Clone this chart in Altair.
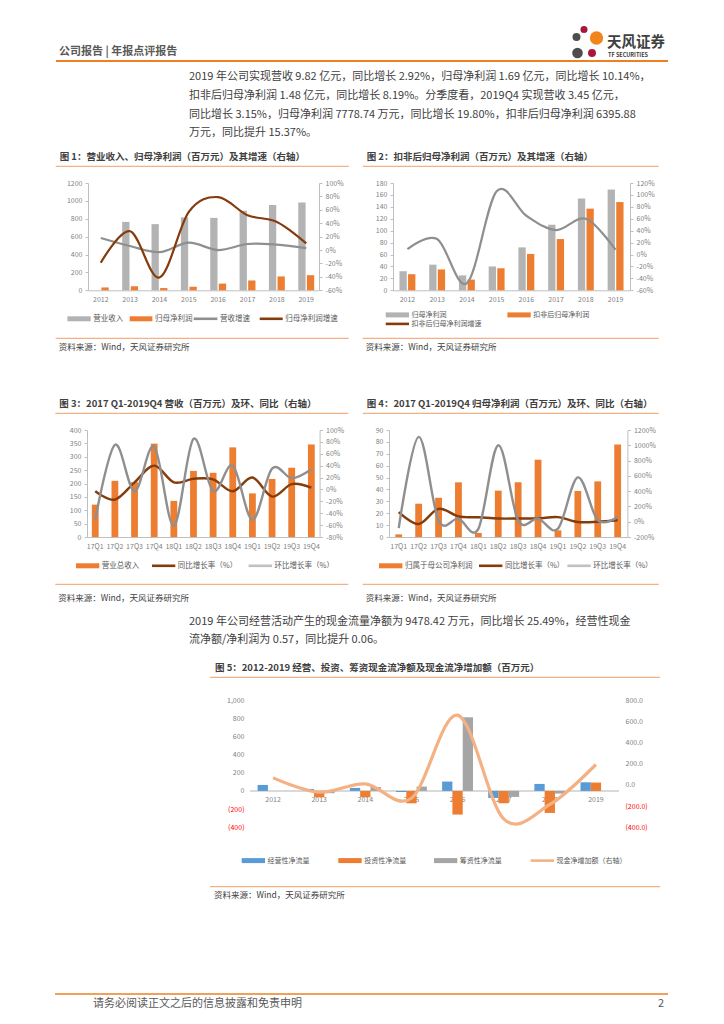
import altair as alt
import pandas as pd

FONT = "Noto Sans CJK SC"

# ---------------- data ----------------
years = ["2012", "2013", "2014", "2015", "2016", "2017", "2018", "2019"]
quarters = ["17Q1", "17Q2", "17Q3", "17Q4", "18Q1", "18Q2", "18Q3", "18Q4",
            "19Q1", "19Q2", "19Q3", "19Q4"]

c1_bar_names = ["营业收入", "归母净利润"]
c1_revenue = [None, 765, 740, 815, 810, 890, 955, 982]
c1_profit = [32, 45, 25, 40, 75, 110, 155, 169]
c1_line_names = ["营收增速", "归母净利润增速"]
c1_rev_growth = [18, 6, -3, 11, 0, 9, 8, 3]
c1_profit_growth = [-19, 28, -41, 57, 79, 52, 42, 10]
c1_left_ticks = [0, 200, 400, 600, 800, 1000, 1200]
c1_right_ticks = [-60, -40, -20, 0, 20, 40, 60, 80, 100]

c2_bar_names = ["归母净利润", "扣非后归母净利润"]
c2_profit = [32, 43, 25, 40, 72, 110, 154, 169]
c2_deducted = [27, 35, 18, 37, 61, 86, 137, 148]
c2_line_names = ["扣非后归母净利润增速"]
c2_growth = [9, 26, -48, 106, 65, 41, 60, 8]
c2_left_ticks = [0, 20, 40, 60, 80, 100, 120, 140, 160, 180]
c2_right_ticks = [-60, -40, -20, 0, 20, 40, 60, 80, 100, 120]

c3_bar_name = "营业总收入"
c3_revenue = [121, 210, 205, 349, 135, 247, 240, 335, 163, 217, 259, 346]
c3_line_names = ["同比增长率（%）", "环比增长率（%）"]
c3_yoy = [-3, -17, 12, 40, 12, 18, 17, -3, 20, -12, 9, 3]
c3_qoq = [-51, 75, -3, 72, -61, 85, -3, 40, -51, 35, 19, 34]
c3_left_ticks = [0, 50, 100, 150, 200, 250, 300, 350, 400]
c3_right_ticks = [-80, -60, -40, -20, 0, 20, 40, 60, 80, 100]

c4_bar_name = "归属于母公司净利润"
c4_profit = [2.2, 28, 33, 46, 3.4, 39, 46, 65, 5.6, 38.7, 46.8, 77.8]
c4_line_names = ["同比增长率（%）", "环比增长率（%）"]
c4_yoy = [126, -30, 168, 70, 58, 42, 42, 43, 60, -3, 0, 20]
c4_qoq = [-83, 1110, 18, 39, -93, 1000, 18, 41, -91, 580, 21, 66]
c4_left_ticks = [0, 10, 20, 30, 40, 50, 60, 70, 80, 90]
c4_right_ticks = [-200, 0, 200, 400, 600, 800, 1000, 1200]

c5_bar_names = ["经营性净流量", "投资性净流量", "筹资性净流量"]
c5_operating = [66, 22, 33, -12, 103, -77, 77, 95]
c5_investing = [None, -70, -70, -136, -260, -136, -242, 92]
c5_financing = [None, -25, 44, 48, 810, -66, -29, None]
c5_line_name = "现金净增加额（右轴）"
c5_net = [66, -69, 9, -126, 657, -320, -185, 192]
c5_left_ticks = [-400, -200, 0, 200, 400, 600, 800, 1000]
c5_right_ticks = [-400, -200, 0, 200, 400, 600, 800]

# ---------------- texts ----------------
header_title = "公司报告 | 年报点评报告"
logo_cn = "天风证券"
logo_en = "TF SECURITIES"
para1 = [
    "2019 年公司实现营收 9.82 亿元，同比增长 2.92%，归母净利润 1.69 亿元，同比增长 10.14%，",
    "扣非后归母净利润 1.48 亿元，同比增长 8.19%。分季度看，2019Q4 实现营收 3.45 亿元，",
    "同比增长 3.15%，归母净利润 7778.74 万元，同比增长 19.80%，扣非后归母净利润 6395.88",
    "万元，同比提升 15.37%。",
]
para2 = [
    "2019 年公司经营活动产生的现金流量净额为 9478.42 万元，同比增长 25.49%，经营性现金",
    "流净额/净利润为 0.57，同比提升 0.06。",
]
titles = [
    "图 1：营业收入、归母净利润（百万元）及其增速（右轴）",
    "图 2：扣非后归母净利润（百万元）及其增速（右轴）",
    "图 3：2017 Q1-2019Q4 营收（百万元）及环、同比（右轴）",
    "图 4：2017 Q1-2019Q4 归母净利润（百万元）及环、同比（右轴）",
    "图 5：2012-2019 经营、投资、筹资现金流净额及现金流净增加额（百万元）",
]
source = "资料来源：Wind，天风证券研究所"
footer = "请务必阅读正文之后的信息披露和免责申明"
page_no = "2"

# ---------------- styles ----------------
AX_TXT = "#7F7F7F"
AX_LINE = "#BFBFBF"
ORANGE = "#ED7D31"
GREY_BAR = "#B3B3B3"
GREY_LINE = "#8F8F8F"
BROWN = "#843C0C"
LGREY = "#C0C0C0"
BLUE = "#5B9BD5"
PEACH = "#F4B183"
HEAD_ORANGE = "#EE7F22"
TXT = "#404040"
PAGE_W = 708

DUMMY = pd.DataFrame({"d": [0]})


def txt(s, px, py, ox, oy, size, color=TXT, weight="normal", align="left"):
    return alt.Chart(DUMMY).mark_text(
        text=s, font=FONT, fontSize=size, fontWeight=weight, color=color,
        align=align, baseline="middle"
    ).encode(x=alt.value(px - ox), y=alt.value(py - oy))


def hline(x1, x2, py, ox, oy, color, width):
    return alt.Chart(DUMMY).mark_rule(
        color=color, strokeWidth=width, strokeCap="butt"
    ).encode(x=alt.value(x1 - ox), x2=alt.value(x2 - ox), y=alt.value(py - oy))


def dot(px, py, d, color, ox, oy):
    return alt.Chart(DUMMY).mark_circle(
        size=3.1416 * d * d / 4, color=color, opacity=1
    ).encode(x=alt.value(px - ox), y=alt.value(py - oy))


def frame_spacer(w, h, top, bottom, plot_top):
    # invisible frame: fixes the full bounds of a row (page x 8..716, y top..bottom)
    return alt.Chart(DUMMY).mark_rect(opacity=0).encode(
        x=alt.value(0), x2=alt.value(PAGE_W),
        y=alt.value(top - plot_top), y2=alt.value(bottom - plot_top)
    ).properties(width=w, height=h)


def plain_spacer(w, h):
    return alt.Chart(DUMMY).mark_point(opacity=0).encode(
        x=alt.value(0), y=alt.value(0)).properties(width=w, height=h)


def decorations(ox, oy, title, tx, ty, ux1, ux2, uy, legend_rows, by, sy, lsize=7.5):
    layers = [txt(title, tx, ty, ox, oy, 9.5, weight="bold"),
              hline(ux1, ux2, uy, ox, oy, PEACH, 1.2)]
    for ly, items in legend_rows:
        for (x1, x2, label, color, kind) in items:
            layers.append(hline(x1, x2, ly, ox, oy, color, 5 if kind == "bar" else 2.6))
            layers.append(txt(label, x2 + 2.5, ly, ox, oy, lsize, color="#595959"))
    layers.append(hline(ux1, ux2, by, ox, oy, PEACH, 1.2))
    layers.append(txt(source, tx - 1, sy, ox, oy, 8.5))
    return layers


def x_axis():
    return alt.Axis(title=None, labelAngle=0, labelFont=FONT, labelFontSize=7,
                    labelColor=AX_TXT, labelPadding=5, domainColor=AX_LINE,
                    ticks=False, labelOverlap=False)


def y_axis(vals, orient, pct):
    kw = dict(title=None, orient=orient, values=vals, grid=False, labelFont=FONT,
              labelFontSize=7, labelColor=AX_TXT, labelPadding=3, labelOverlap=False,
              domainColor=AX_LINE, tickColor=AX_LINE, tickSize=3)
    if pct:
        kw["labelExpr"] = "datum.value + '%'"
    else:
        kw["format"] = "d"
    return alt.Axis(**kw)


def long_df(cats, names, series_lists):
    rows = {"cat": [], "series": [], "v": []}
    for n, vals in zip(names, series_lists):
        rows["cat"] += cats
        rows["series"] += [n] * len(cats)
        rows["v"] += vals
    return pd.DataFrame(rows)


def combo(cats, bar_names, bar_vals, bar_colors, bar_w, bar_gap,
          line_names, line_vals, line_colors, lt, rt, pi, po, line_w):
    X = alt.X("cat:N", sort=cats,
              scale=alt.Scale(type="band", domain=cats, paddingInner=pi, paddingOuter=po),
              axis=x_axis())
    Yl = alt.Y("v:Q", scale=alt.Scale(domain=[lt[0], lt[-1]], nice=False),
               axis=y_axis(lt, "left", False))
    n = len(bar_names)
    bar_layers = []
    for i, (name, vals, col) in enumerate(zip(bar_names, bar_vals, bar_colors)):
        off = (i - (n - 1) / 2) * (bar_w + bar_gap)
        dfb = pd.DataFrame({"cat": cats, "v": vals})
        bar_layers.append(alt.Chart(dfb).mark_bar(
            color=col, width=bar_w, xOffset=off).encode(x=X, y=Yl))
    bars = alt.layer(*bar_layers)
    dfl = long_df(cats, line_names, line_vals)
    lines = alt.Chart(dfl).mark_line(interpolate="cardinal", strokeWidth=line_w).encode(
        x=X,
        y=alt.Y("v:Q", scale=alt.Scale(domain=[rt[0], rt[-1]], nice=False),
                axis=y_axis(rt, "right", True)),
        color=alt.Color("series:N", scale=alt.Scale(domain=line_names, range=line_colors),
                        legend=None),
    )
    return bars, lines


# ---------------- row A : header + paragraph ----------------
OX, OY = 8, 8
header_layers = [
    txt(header_title, 59, 51.5, OX, OY, 11, color="#595959", weight="bold"),
    hline(56, 668, 61, OX, OY, HEAD_ORANGE, 2),
    dot(584, 29.5, 8, "#A6193C", OX, OY),
    dot(576.5, 37, 9, "#4D4D4D", OX, OY),
    dot(596.5, 38, 15, "#F08519", OX, OY),
    dot(577.5, 53, 12, "#4D4D4D", OX, OY),
    dot(592, 53, 9, "#A6193C", OX, OY),
    txt(logo_cn, 607, 43, OX, OY, 14.5, color=TXT, weight="bold"),
    txt(logo_en, 608, 54.5, OX, OY, 5.5, color=TXT, weight="bold"),
]
for i, line in enumerate(para1):
    header_layers.append(txt(line, 189, [77, 96, 115, 133][i], OX, OY, 11))
rowA = alt.layer(*header_layers).properties(width=PAGE_W, height=137)   # page y 8..145

# ---------------- row B : charts 1 & 2 (page y 145..355) ----------------
ox, oy = 87.3, 182.7
b1, l1 = combo(years, c1_bar_names, [c1_revenue, c1_profit], [GREY_BAR, ORANGE], 7.3, 1.3,
               c1_line_names, [c1_rev_growth, c1_profit_growth], [GREY_LINE, BROWN],
               c1_left_ticks, c1_right_ticks, 0.45, 0.16, 2.2)
d1 = decorations(ox, oy, titles[0], 59, 156.5, 55, 348, 166,
                 [(318.5, [(66.7, 90, c1_bar_names[0], GREY_BAR, "bar"),
                           (129, 151.7, c1_bar_names[1], ORANGE, "bar"),
                           (193, 216.7, c1_line_names[0], GREY_LINE, "line"),
                           (259, 282, c1_line_names[1], BROWN, "line")])],
                 338, 347)
chart1 = alt.layer(b1, l1, *d1).resolve_scale(y="independent") \
    .properties(width=231, height=107.3)

ox, oy = 392.3, 182.7
b2, l2 = combo(years, c2_bar_names, [c2_profit, c2_deducted], [GREY_BAR, ORANGE], 7.3, 1.3,
               c2_line_names, [c2_growth], [BROWN],
               c2_left_ticks, c2_right_ticks, 0.47, 0.22, 2.2)
d2 = decorations(ox, oy, titles[1], 366, 156.5, 362, 658, 166,
                 [(314.6, [(385, 408.3, c2_bar_names[0], GREY_BAR, "bar"),
                           (506.7, 530, c2_bar_names[1], ORANGE, "bar")]),
                  (323.6, [(385, 408.3, c2_line_names[0], BROWN, "line")])],
                 338, 347, lsize=7)
chart2 = alt.layer(b2, l2, *d2).resolve_scale(y="independent") \
    .properties(width=237, height=107.3)

rowB = alt.hconcat(frame_spacer(79.3, 107.3, 145, 355, 182.7), chart1,
                   plain_spacer(74, 107.3), chart2, spacing=0, bounds="flush")

# ---------------- row C : charts 3 & 4 (page y 355..605) ----------------
ox, oy = 86.7, 428.7
b3, l3 = combo(quarters, [c3_bar_name], [c3_revenue], [ORANGE], 6.8, 0,
               c3_line_names, [c3_yoy, c3_qoq], [BROWN, LGREY],
               c3_left_ticks, c3_right_ticks, 0.66, 0.25, 2.4)
d3 = decorations(ox, oy, titles[2], 59, 402.3, 55, 348, 412,
                 [(564.5, [(75.7, 99, c3_bar_name, ORANGE, "bar"),
                           (151.7, 175, c3_line_names[0], BROWN, "line"),
                           (248.3, 271.7, c3_line_names[1], LGREY, "line")])],
                 583, 597)
chart3 = alt.layer(b3, l3, *d3).resolve_scale(y="independent") \
    .properties(width=232.6, height=107)

ox, oy = 388.3, 428.7
b4, l4 = combo(quarters, [c4_bar_name], [c4_profit], [ORANGE], 6.8, 0,
               c4_line_names, [c4_yoy, c4_qoq], [BROWN, LGREY],
               c4_left_ticks, c4_right_ticks, 0.66, 0.32, 2.4)
d4 = decorations(ox, oy, titles[3], 366, 402.3, 362, 658, 412,
                 [(564.5, [(378.3, 401.7, c4_bar_name, ORANGE, "bar"),
                           (478.3, 501.7, c4_line_names[0], BROWN, "line"),
                           (566.7, 590, c4_line_names[1], LGREY, "line")])],
                 583, 597)
chart4 = alt.layer(b4, l4, *d4).resolve_scale(y="independent") \
    .properties(width=238.4, height=107)

rowC = alt.hconcat(frame_spacer(78.7, 107, 355, 605, 428.7), chart3,
                   plain_spacer(69, 107), chart4, spacing=0, bounds="flush")

# ---------------- row D : paragraph 2 (page y 605..650) ----------------
OY_D = 605
rowD = alt.layer(
    txt(para2[0], 189, 620, OX, OY_D, 11),
    txt(para2[1], 189, 638, OX, OY_D, 11),
).properties(width=PAGE_W, height=45)

# ---------------- row E : chart 5 (page y 650..902) ----------------
ox, oy, W5, H5 = 250, 697.7, 369, 127.3
X5 = alt.X("cat:N", sort=years,
           scale=alt.Scale(type="band", domain=years, paddingInner=0.33, paddingOuter=0.165),
           axis=None)
neg_color = {"condition": {"test": "datum.value < 0", "value": "#FF0000"}, "value": AX_TXT}
left5 = alt.Axis(title=None, values=c5_left_ticks, grid=False, domain=False, ticks=False,
                 labelFont=FONT, labelFontSize=7, labelPadding=6, labelOverlap=False,
                 labelExpr="datum.value < 0 ? '(' + format(-datum.value, ',') + ')' : format(datum.value, ',')",
                 labelColor=neg_color)
right5 = alt.Axis(title=None, orient="right", values=c5_right_ticks, grid=False,
                  domain=False, ticks=False, labelFont=FONT, labelFontSize=7, labelPadding=6,
                  labelOverlap=False,
                  labelExpr="datum.value < 0 ? '(' + format(-datum.value, '.1f') + ')' : format(datum.value, '.1f')",
                  labelColor=neg_color)
Y5 = alt.Y("v:Q", scale=alt.Scale(domain=[-400, 1000], nice=False), axis=left5)

# category labels sit on the zero line (value 0 of the left axis)
base5 = pd.DataFrame({"cat": years, "v": [0] * len(years)})
zero5 = alt.Chart(base5).mark_rule(color="#D9D9D9", strokeWidth=1).encode(
    y=Y5, x=alt.value(0), x2=alt.value(W5))
xlab5 = alt.Chart(base5).mark_text(
    font=FONT, fontSize=7, color=AX_TXT, dy=9, baseline="middle").encode(
    x=X5, y=Y5, text="cat:N")
bar5_layers = []
bw5 = 10.3
for i, (name, vals, col) in enumerate(zip(c5_bar_names,
                                         [c5_operating, c5_investing, c5_financing],
                                         [BLUE, ORANGE, "#A5A5A5"])):
    dfb = pd.DataFrame({"cat": years, "v": vals})
    bar5_layers.append(alt.Chart(dfb).mark_bar(color=col, width=bw5, xOffset=(i - 1) * bw5)
                       .encode(x=X5, y=Y5))
inner5 = alt.layer(zero5, xlab5, *bar5_layers)
df5l = pd.DataFrame({"cat": years, "v": c5_net})
line5 = alt.Chart(df5l).mark_line(interpolate="cardinal", strokeWidth=3.2, color=PEACH).encode(
    x=X5, y=alt.Y("v:Q", scale=alt.Scale(domain=[-400, 800], nice=False), axis=right5))
d5 = decorations(ox, oy, titles[4], 215, 665.7, 210, 660, 675,
                 [(858.3, [(241.7, 265, c5_bar_names[0], BLUE, "bar"),
                           (338.3, 361.7, c5_bar_names[1], ORANGE, "bar"),
                           (434, 457.3, c5_bar_names[2], "#A5A5A5", "bar"),
                           (530.7, 554, c5_line_name, PEACH, "line")])],
                 884.3, 893, lsize=7)
chart5 = alt.layer(inner5, line5, *d5).resolve_scale(y="independent") \
    .properties(width=W5, height=H5)
rowE = alt.hconcat(frame_spacer(242, H5, 650, 902, 697.7), chart5, spacing=0, bounds="flush")

# ---------------- row F : footer (page y 902..1010) ----------------
OY_F = 902
rowF = alt.layer(
    hline(55, 668, 991, OX, OY_F, HEAD_ORANGE, 1.5),
    txt(footer, 93, 1001, OX, OY_F, 11, color="#595959"),
    txt(page_no, 664, 1001, OX, OY_F, 11, color="#595959", align="right"),
).properties(width=PAGE_W, height=108)

chart = alt.vconcat(rowA, rowB, rowC, rowD, rowE, rowF, spacing=0) \
    .properties(padding=0).configure_view(stroke=None) \
    .configure_axis(labelOverlap=False)

chart.save("out.html", embed_options={"renderer": "svg", "actions": False})
